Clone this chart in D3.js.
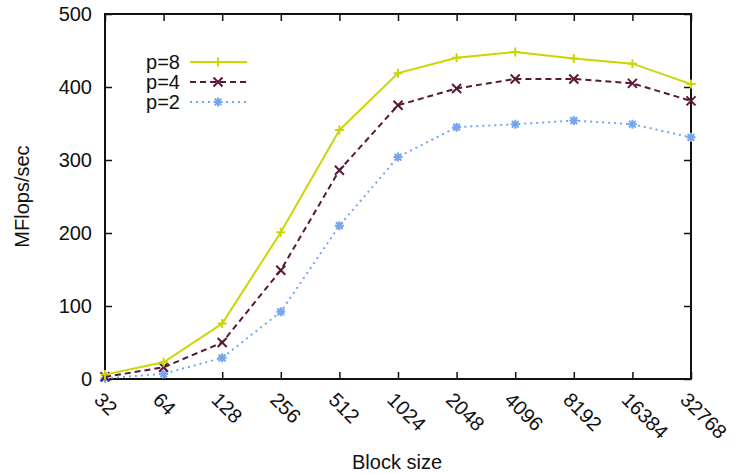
<!DOCTYPE html>
<html>
<head>
<meta charset="utf-8">
<script src="https://cdn.jsdelivr.net/npm/d3@7"></script>
<style>
  body { margin: 0; background: #fff; }
  text { font-family: "Liberation Sans", Arial, sans-serif; fill: #111; }
</style>
</head>
<body>
<script>
// block sizes on the x axis (log2 spaced)
var blockSizes = [32, 64, 128, 256, 512, 1024, 2048, 4096, 8192, 16384, 32768];
var p8 = [6, 23, 76, 201, 341, 419, 440, 448, 439, 432, 404];
var p4 = [3, 16, 50, 149, 286, 375, 398, 411, 411, 405, 381];
var p2 = [1, 7, 29, 92, 210, 304, 345, 349, 354, 349, 331];
var yTicks = [0, 100, 200, 300, 400, 500];

var width = 739, height = 474,
    margin = {left: 105, right: 48, top: 14, bottom: 95},
    fs = "20px";

var series = [
  {name: "p=8", values: p8, color: "#cbd600", dash: null, mark: "plus"},
  {name: "p=4", values: p4, color: "#5a1838", dash: "6,4", mark: "cross"},
  {name: "p=2", values: p2, color: "#73a6ee", dash: "2,4", mark: "star"}
];

var x = d3.scaleLog().base(2)
    .domain([32, 32768])
    .range([margin.left, width - margin.right]);

var y = d3.scaleLinear()
    .domain([0, 500])
    .range([height - margin.bottom, margin.top]);

var svg = d3.select("body").append("svg")
    .attr("width", width)
    .attr("height", height);

// frame ticks on all four sides (gnuplot style mirror)
svg.append("g")
    .attr("transform", "translate(0," + y(0) + ")")
    .call(d3.axisBottom(x).tickValues(blockSizes).tickSize(-7).tickFormat(""))
    .call(function (g) { g.select(".domain").remove(); });
svg.append("g")
    .attr("transform", "translate(0," + y(500) + ")")
    .call(d3.axisTop(x).tickValues(blockSizes).tickSize(-7).tickFormat(""))
    .call(function (g) { g.select(".domain").remove(); });
svg.append("g")
    .attr("transform", "translate(" + x(32768) + ",0)")
    .call(d3.axisRight(y).tickValues(yTicks).tickSize(-7).tickFormat(""))
    .call(function (g) { g.select(".domain").remove(); });
var yAx = svg.append("g")
    .attr("transform", "translate(" + x(32) + ",0)")
    .call(d3.axisLeft(y).tickValues(yTicks).tickSize(-7).tickPadding(13))
    .call(function (g) { g.select(".domain").remove(); });
yAx.selectAll("text").style("font-size", fs).attr("fill", "#111");
svg.selectAll(".tick line").attr("stroke", "#111").attr("stroke-width", 1.5);

// border
svg.append("rect")
    .attr("x", x(32)).attr("y", y(500))
    .attr("width", x(32768) - x(32)).attr("height", y(0) - y(500))
    .attr("fill", "none").attr("stroke", "#111").attr("stroke-width", 2);

// rotated x labels
svg.selectAll(".xlab")
    .data(blockSizes)
    .enter().append("text")
    .attr("class", "xlab")
    .attr("transform", function (d) {
        return "translate(" + (x(d) - 2) + "," + (y(0) + 12) + ") rotate(45)";
    })
    .attr("dy", "0.7em")
    .style("font-size", fs)
    .text(function (d) { return d; });

svg.append("text")
    .attr("x", 397).attr("y", 469)
    .attr("text-anchor", "middle")
    .style("font-size", fs)
    .text("Block size");

svg.append("text")
    .attr("transform", "translate(29," + ((y(0) + y(500)) / 2) + ") rotate(-90)")
    .attr("text-anchor", "middle")
    .style("font-size", fs)
    .text("MFlops/sec");

function marker(g, type, cx, cy, color) {
    var s = 4.5, path;
    if (type === "plus") path = "M" + (cx - s) + "," + cy + "H" + (cx + s) + "M" + cx + "," + (cy - s) + "V" + (cy + s);
    else if (type === "cross") path = "M" + (cx - s) + "," + (cy - s) + "L" + (cx + s) + "," + (cy + s) + "M" + (cx - s) + "," + (cy + s) + "L" + (cx + s) + "," + (cy - s);
    else path = "M" + (cx - s) + "," + cy + "H" + (cx + s) + "M" + cx + "," + (cy - s) + "V" + (cy + s) +
        "M" + (cx - s * 0.75) + "," + (cy - s * 0.75) + "L" + (cx + s * 0.75) + "," + (cy + s * 0.75) +
        "M" + (cx - s * 0.75) + "," + (cy + s * 0.75) + "L" + (cx + s * 0.75) + "," + (cy - s * 0.75);
    g.append("path").attr("d", path).attr("stroke", color).attr("stroke-width", 2).attr("fill", "none");
}

var line = d3.line()
    .x(function (d) { return x(d.k); })
    .y(function (d) { return y(d.v); });

// draw p=2 first so p=8 sits on top
series.slice().reverse().forEach(function (s) {
    var pts = blockSizes.map(function (k, i) { return {k: k, v: s.values[i]}; });
    svg.append("path")
        .datum(pts)
        .attr("d", line)
        .attr("fill", "none")
        .attr("stroke", s.color)
        .attr("stroke-width", 2)
        .attr("stroke-dasharray", s.dash);
    var g = svg.append("g");
    pts.forEach(function (p) { marker(g, s.mark, x(p.k), y(p.v), s.color); });
});

// legend
series.forEach(function (s, i) {
    var ly = 62 + i * 20;
    svg.append("text")
        .attr("x", 180).attr("y", ly)
        .attr("dy", "0.35em")
        .attr("text-anchor", "end")
        .style("font-size", fs)
        .text(s.name);
    svg.append("line")
        .attr("x1", 190).attr("x2", 247)
        .attr("y1", ly).attr("y2", ly)
        .attr("stroke", s.color).attr("stroke-width", 2)
        .attr("stroke-dasharray", s.dash);
    marker(svg, s.mark, 218, ly, s.color);
});
</script>
</body>
</html>
